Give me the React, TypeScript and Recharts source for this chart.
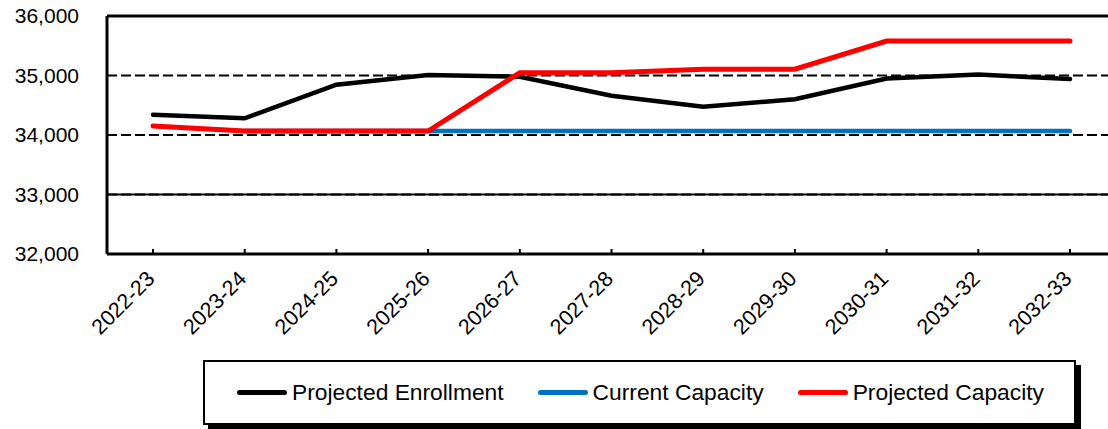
import { LineChart, Line, XAxis, YAxis, CartesianGrid, ReferenceLine } from 'recharts';

// school years on the x axis
const years = [
  '2022-23', '2023-24', '2024-25', '2025-26', '2026-27', '2027-28',
  '2028-29', '2029-30', '2030-31', '2031-32', '2032-33',
];

// values
const projectedEnrollment = [34340, 34280, 34845, 35010, 34980, 34660, 34475, 34600, 34950, 35015, 34940];
const currentCapacity = [null, 34067, 34067, 34067, 34067, 34067, 34067, 34067, 34067, 34067, 34067];
const projectedCapacity = [34152, 34067, 34067, 34067, 35045, 35045, 35107, 35107, 35580, 35580, 35580];

const yTicks = [32000, 33000, 34000, 35000, 36000];

const series = [
  { key: 'enroll', name: 'Projected Enrollment', color: '#000000', width: 4.5 },
  { key: 'current', name: 'Current Capacity', color: '#0070C0', width: 4.5 },
  { key: 'projected', name: 'Projected Capacity', color: '#FF0000', width: 5 },
];

const data = years.map((year, i) => ({
  year,
  enroll: projectedEnrollment[i],
  current: currentCapacity[i],
  projected: projectedCapacity[i],
}));

const FONT = '"Liberation Sans", Arial, sans-serif';

function YearTick({ x, y, payload }: any) {
  return (
    <text
      x={x + 3}
      y={y + 31}
      transform={`rotate(-45 ${x + 3} ${y + 31})`}
      textAnchor="end"
      fontSize={21.5}
      fontFamily={FONT}
      fill="#000"
    >
      {payload.value}
    </text>
  );
}

function LegendBox() {
  return (
    <div
      style={{
        position: 'absolute', left: 203, top: 360, width: 873, height: 65,
        border: '2px solid #000', boxShadow: '5px 5px 0 #000', background: '#fff',
        display: 'flex', alignItems: 'center', paddingLeft: 32, gap: 34,
        fontFamily: FONT, fontSize: 22.8, color: '#000', boxSizing: 'border-box',
      }}
    >
      {series.map((s) => (
        <div key={s.key} style={{ display: 'flex', alignItems: 'center', gap: 5 }}>
          <div style={{ width: 50, height: 5, borderRadius: 3, background: s.color }} />
          <span>{s.name}</span>
        </div>
      ))}
    </div>
  );
}

export default function App() {
  return (
    <div style={{ position: 'absolute', left: 0, top: 0, width: 1108, height: 429, overflow: 'hidden', background: '#fff' }}>
      <LineChart width={1116} height={429} data={data} margin={{ top: 16, right: 0, bottom: 0, left: 0 }}>
        <CartesianGrid horizontal vertical={false} stroke="#000" strokeWidth={2} strokeDasharray="10 4" />
        <ReferenceLine y={33000} stroke="#000" strokeWidth={2} />
        <ReferenceLine y={36000} stroke="#000" strokeWidth={3} />
        <XAxis
          dataKey="year"
          height={175}
          padding={{ left: 46, right: 46 }}
          axisLine={{ stroke: '#000', strokeWidth: 3 }}
          tickLine={{ stroke: '#000', strokeWidth: 2 }}
          tickSize={-5}
          tickMargin={0}
          tick={<YearTick />}
          interval={0}
        />
        <YAxis
          width={107}
          domain={[32000, 36000]}
          ticks={yTicks}
          allowDataOverflow
          axisLine={{ stroke: '#000', strokeWidth: 3 }}
          tickLine={false}
          tickSize={0}
          tickMargin={28}
          tick={{ fontSize: 21, fill: '#000', fontFamily: FONT }}
          tickFormatter={(v) => Number(v).toLocaleString('en-US')}
        />
        {series.map((s) => (
          <Line
            key={s.key}
            type="linear"
            dataKey={s.key}
            name={s.name}
            stroke={s.color}
            strokeWidth={s.width}
            strokeLinecap="round"
            dot={false}
            activeDot={false}
            isAnimationActive={false}
          />
        ))}
      </LineChart>
      <LegendBox />
    </div>
  );
}
